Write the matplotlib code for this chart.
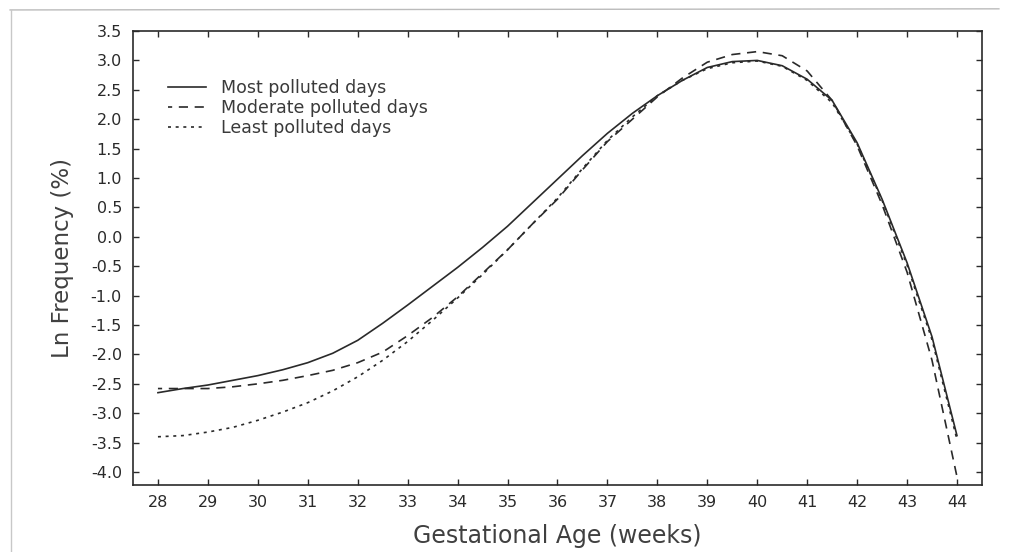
import numpy as np
import matplotlib.pyplot as plt
from matplotlib.lines import Line2D

# gestational age (weeks) and ln frequency (%) for each exposure group
weeks = np.arange(28, 44.01, 0.5)

most = [-2.65, -2.58, -2.52, -2.44, -2.36, -2.26, -2.14, -1.98, -1.76, -1.47,
        -1.16, -0.84, -0.52, -0.18, 0.18, 0.58, 0.98, 1.38, 1.76, 2.10,
        2.40, 2.66, 2.88, 2.98, 3.00, 2.91, 2.68, 2.32, 1.60, 0.64,
        -0.44, -1.70, -3.38]

moderate = [-2.58, -2.58, -2.58, -2.55, -2.50, -2.44, -2.36, -2.27, -2.14, -1.96,
            -1.68, -1.37, -1.02, -0.62, -0.22, 0.22, 0.64, 1.14, 1.62, 2.00,
            2.38, 2.70, 2.97, 3.10, 3.15, 3.08, 2.82, 2.32, 1.55, 0.55,
            -0.60, -2.10, -4.08]

least = [-3.40, -3.38, -3.32, -3.24, -3.12, -2.98, -2.82, -2.62, -2.38, -2.10,
         -1.78, -1.42, -1.04, -0.64, -0.22, 0.22, 0.66, 1.16, 1.64, 2.04,
         2.40, 2.66, 2.86, 2.96, 2.99, 2.90, 2.66, 2.28, 1.58, 0.62,
         -0.48, -1.75, -3.45]

labels = ['Most polluted days', 'Moderate polluted days', 'Least polluted days']

ink = '#2a2a2a'
plt.rcParams['font.family'] = 'DejaVu Sans'

fig = plt.figure(figsize=(10.09, 5.52), dpi=100)
ax = fig.add_axes([0.1318, 0.1214, 0.8414, 0.8224])

ax.plot(weeks, most, color=ink, lw=1.2, label=labels[0])
ax.plot(weeks, moderate, color=ink, lw=1.2, linestyle=(3, (5.5, 4)), label=labels[1])
ax.plot(weeks, least, color=ink, lw=1.2, linestyle=(0, (1.8, 2.8)), label=labels[2])

ax.set_xlim(27.5, 44.5)
ax.set_ylim(-4.22, 3.5)
ax.set_xticks(np.arange(28, 45, 1))
ax.set_yticks(np.arange(-4.0, 3.51, 0.5))
ax.set_yticklabels(['%.1f' % v for v in np.arange(-4.0, 3.51, 0.5)])

ax.tick_params(direction='in', length=4, width=1.0, colors=ink,
               top=True, right=True, labelsize=11.5)
ax.tick_params(axis='y', pad=8)
ax.tick_params(axis='x', pad=7)
for sp in ax.spines.values():
    sp.set_linewidth(1.2)
    sp.set_color(ink)

ax.set_xlabel('Gestational Age (weeks)', fontsize=17, color='#404040', labelpad=10)
ax.set_ylabel('Ln Frequency (%)', fontsize=16.5, color='#404040', labelpad=12)

leg = ax.legend(loc='upper left', bbox_to_anchor=(0.041, 0.895), frameon=False,
                fontsize=12.5, handlelength=2.2, handletextpad=0.85,
                labelspacing=0.12, borderpad=0, borderaxespad=0)
for t in leg.get_texts():
    t.set_color('#3a3a3a')

# faint page border from the scanned sheet
fig.add_artist(Line2D([0.01, 0.99], [0.982, 0.984], color='#bbbbbb', lw=1.0))
fig.add_artist(Line2D([0.011, 0.011], [0.0, 0.982], color='#c8c8c8', lw=1.0))

plt.savefig('out.png', dpi=100)
